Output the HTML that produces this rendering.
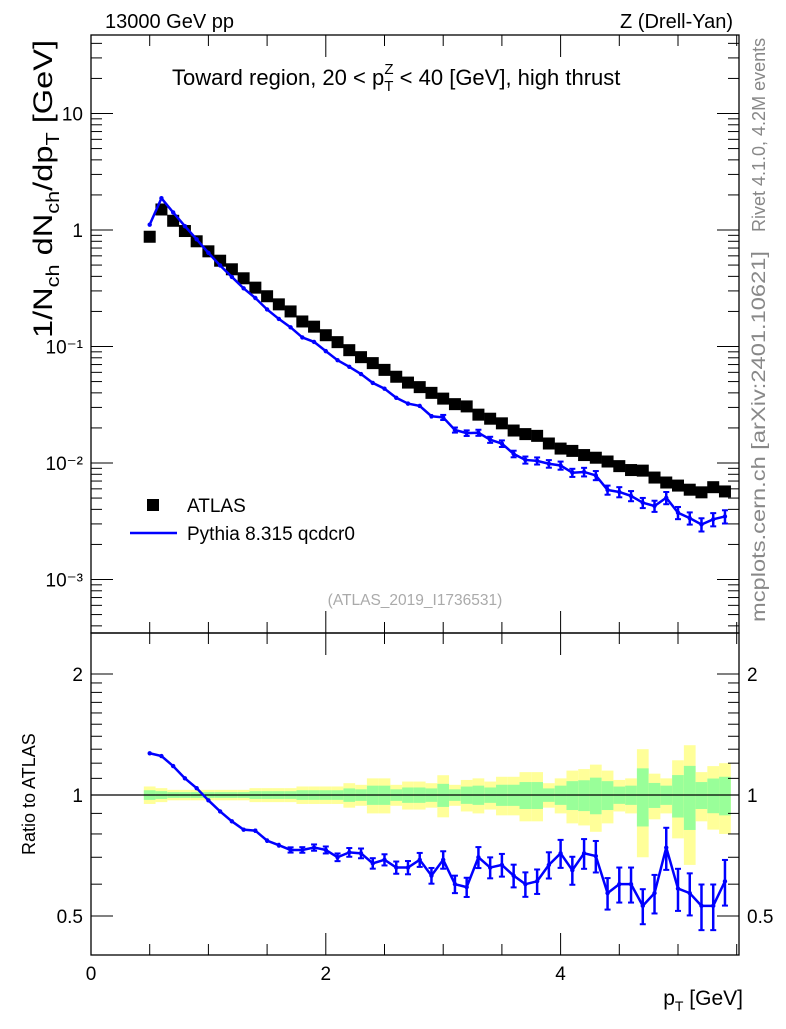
<!DOCTYPE html>
<html><head><meta charset="utf-8"><style>
body{margin:0;background:#fff;}
svg{font-family:"Liberation Sans",sans-serif;}
</style></head><body>
<svg id="chart" width="786" height="1024" viewBox="0 0 786 1024" xmlns="http://www.w3.org/2000/svg">
<text x="105" y="28" font-size="20">13000 GeV pp</text>
<text x="733" y="28" font-size="20" text-anchor="end">Z (Drell-Yan)</text>
<text x="172" y="85" font-size="22">Toward region, 20 &lt; p<tspan font-size="15" dy="6">T</tspan><tspan font-size="15" dx="-9" dy="-17">Z</tspan><tspan dy="11"> &lt; 40 [GeV], high thrust</tspan></text>
<text transform="translate(765,232) rotate(-90)" font-size="18" fill="#888">Rivet 4.1.0,  4.2M events</text>
<text transform="translate(765,622) rotate(-90)" font-size="19" fill="#888" textLength="371" lengthAdjust="spacingAndGlyphs">mcplots.cern.ch [arXiv:2401.10621]</text>
<text transform="translate(52,338) rotate(-90)" font-size="27" textLength="298" lengthAdjust="spacingAndGlyphs">1/N<tspan font-size="18" dy="7">ch</tspan><tspan dy="-7"> dN</tspan><tspan font-size="18" dy="7">ch</tspan><tspan dy="-7">/dp</tspan><tspan font-size="18" dy="7">T</tspan><tspan dy="-7">  [GeV]</tspan></text>
<text transform="translate(35,855) rotate(-90)" font-size="18">Ratio to ATLAS</text>
<text x="743" y="1005" font-size="21" text-anchor="end">p<tspan font-size="14" dy="6">T</tspan><tspan dy="-6"> [GeV]</tspan></text>
<text x="415" y="605" font-size="15.5" fill="#aaa" text-anchor="middle">(ATLAS_2019_I1736531)</text>
<rect x="147" y="499" width="12" height="12" fill="#000"/>
<text x="187" y="512" font-size="19">ATLAS</text>
<line x1="130" y1="533" x2="177" y2="533" stroke="#00f" stroke-width="2.5"/>
<text x="187" y="540" font-size="19">Pythia 8.315 qcdcr0</text>
<g id="g"></g>
</svg>
<script>
const xVals=[];for(let i=0;i<50;i++)xVals.push(+(0.5+0.1*i).toFixed(2));
const atlas=[0.875,1.50,1.20,0.98,0.80,0.656,0.545,0.46,0.385,0.32,0.27,0.23,0.20,0.164,0.148,0.125,0.109,0.093,0.081,0.072,0.063,0.055,0.049,0.0448,0.040,0.0357,0.032,0.0306,0.026,0.024,0.0219,0.019,0.0177,0.0171,0.0147,0.0133,0.0127,0.0117,0.0111,0.0103,0.0094,0.0087,0.0086,0.0075,0.0068,0.0064,0.0059,0.0056,0.0062,0.0057];
const ratio=[1.27,1.25,1.18,1.10,1.04,0.97,0.91,0.86,0.82,0.815,0.77,0.75,0.73,0.73,0.74,0.73,0.70,0.72,0.716,0.676,0.69,0.66,0.66,0.69,0.63,0.69,0.60,0.59,0.70,0.66,0.67,0.63,0.60,0.61,0.67,0.716,0.65,0.716,0.705,0.57,0.60,0.60,0.53,0.57,0.74,0.585,0.57,0.53,0.53,0.61];
const pyErr=[0.005,0.005,0.006,0.006,0.007,0.008,0.008,0.009,0.01,0.012,0.013,0.014,0.015,0.016,0.018,0.02,0.022,0.025,0.028,0.03,0.032,0.035,0.038,0.04,0.045,0.05,0.05,0.055,0.06,0.06,0.065,0.065,0.07,0.07,0.075,0.08,0.08,0.085,0.09,0.09,0.1,0.1,0.1,0.11,0.12,0.12,0.12,0.13,0.13,0.13];
const totErr=[0.05,0.04,0.03,0.03,0.03,0.03,0.03,0.03,0.03,0.04,0.04,0.04,0.04,0.05,0.05,0.05,0.05,0.07,0.06,0.10,0.10,0.06,0.08,0.08,0.07,0.12,0.06,0.09,0.10,0.08,0.11,0.11,0.14,0.14,0.07,0.10,0.15,0.16,0.19,0.15,0.09,0.10,0.30,0.13,0.10,0.22,0.33,0.14,0.18,0.20];
const statFrac=0.55;
const mainTicks=[{v:10,l:"10"},{v:1,l:"1"},{v:0.1,l:"10⁻¹"},{v:0.01,l:"10⁻²"},{v:0.001,l:"10⁻³"}];
const ratioTicks=[0.5,1,2];
const xTicks=[0,2,4];

const L=91,R=739,MT=35,MB=633,RB=955;
const X=v=>L+(v-0.0)*117.4;
const Y=v=>230-116.5*Math.log10(v);
const RY=v=>795-121*Math.log2(v);
const g=document.getElementById('g');
const NS='http://www.w3.org/2000/svg';
function mk(t,a,p){const e=document.createElementNS(NS,t);for(const k in a)e.setAttribute(k,a[k]);(p||g).appendChild(e);return e;}

const bands=mk('g',{});


xVals.forEach((x,i)=>{
  const x0=X(x-0.05),x1=X(x+0.05);
  const t=totErr[i],s=t*statFrac;
  const r1=mk('rect',{x:x0,y:RY(1+t),width:x1-x0,height:RY(1-t)-RY(1+t),fill:'#ffff99'},bands);
  
  
  const r2=mk('rect',{x:x0,y:RY(1+s),width:x1-x0,height:RY(1-s)-RY(1+s),fill:'#99ff99'},bands);
  
  
});
const one=mk('line',{x1:L,x2:R,y1:RY(1),y2:RY(1),stroke:'#000','stroke-width':1.3});



const f1=mk('rect',{x:L,y:MT,width:R-L,height:MB-MT,fill:'none',stroke:'#000','stroke-width':1.3});


const f2=mk('rect',{x:L,y:MB,width:R-L,height:RB-MB,fill:'none',stroke:'#000','stroke-width':1.3});



for(let d=-4;d<=1;d++){for(let m=1;m<10;m++){const v=m*Math.pow(10,d);const y=Y(v);if(y<MT||y>MB)continue;const len=m==1?22:11;
 mk('line',{x1:L,x2:L+len,y1:y,y2:y,stroke:'#000'});mk('line',{x1:R,x2:R-len,y1:y,y2:y,stroke:'#000'});}}
mainTicks.forEach(t=>{const e=mk('text',{x:L-8,y:Y(t.v)+7,'font-size':19,'text-anchor':'end'});e.textContent=t.l;
 
 });
[0.5,0.6,0.7,0.8,0.9,1,1.1,1.2,1.3,1.4,1.5,1.6,1.7,1.8,1.9,2].forEach(v=>{const y=RY(v);const len=(v==0.5||v==1||v==2)?22:11;
 mk('line',{x1:L,x2:L+len,y1:y,y2:y,stroke:'#000'});mk('line',{x1:R,x2:R-len,y1:y,y2:y,stroke:'#000'});});
ratioTicks.forEach(v=>{let e=mk('text',{x:L-8,y:RY(v)+7,'font-size':19,'text-anchor':'end'});e.textContent=String(v);
 
 
 e=mk('text',{x:R+8,y:RY(v)+7,'font-size':19});e.textContent=String(v);
 
 });
for(let v=0;v<=5.5;v+=0.5){const x=X(v);const len=(v%2==0)?22:11;
 mk('line',{x1:x,x2:x,y1:RB,y2:RB-len,stroke:'#000'});mk('line',{x1:x,x2:x,y1:MB,y2:MB+len,stroke:'#000'});
 mk('line',{x1:x,x2:x,y1:MB,y2:MB-len,stroke:'#000'});mk('line',{x1:x,x2:x,y1:MT,y2:MT+len,stroke:'#000'});}
xTicks.forEach(v=>{const e=mk('text',{x:X(v),y:RB+25,'font-size':19,'text-anchor':'middle'});e.textContent=String(v);
 
 });

xVals.forEach((x,i)=>{const r=mk('rect',{x:X(x)-6,y:Y(atlas[i])-6,width:12,height:12,fill:'#000'});
 
 });
const py=atlas.map((a,i)=>a*ratio[i]);
const pl=mk('polyline',{points:xVals.map((x,i)=>X(x)+','+Y(py[i])).join(' '),fill:'none',stroke:'#00f','stroke-width':2.5});


const rl=mk('polyline',{points:xVals.map((x,i)=>X(x)+','+RY(ratio[i])).join(' '),fill:'none',stroke:'#00f','stroke-width':2.5});


xVals.forEach((x,i)=>{const cx=X(x);
 [[Y(py[i]*(1+pyErr[i])),Y(py[i]*(1-pyErr[i])),Y(py[i])],[RY(ratio[i]*(1+pyErr[i])),RY(ratio[i]*(1-pyErr[i])),RY(ratio[i])]].forEach(([a,b,c])=>{
  mk('line',{x1:cx,x2:cx,y1:a,y2:b,stroke:'#00f','stroke-width':2.5});
  if(b-a>5){mk('line',{x1:cx-3,x2:cx+3,y1:a,y2:a,stroke:'#00f','stroke-width':2});mk('line',{x1:cx-3,x2:cx+3,y1:b,y2:b,stroke:'#00f','stroke-width':2});}
  const p=mk('circle',{cx:cx,cy:c,r:2.2,fill:'#00f'});
  
  
 });});
</script>
</body></html>
